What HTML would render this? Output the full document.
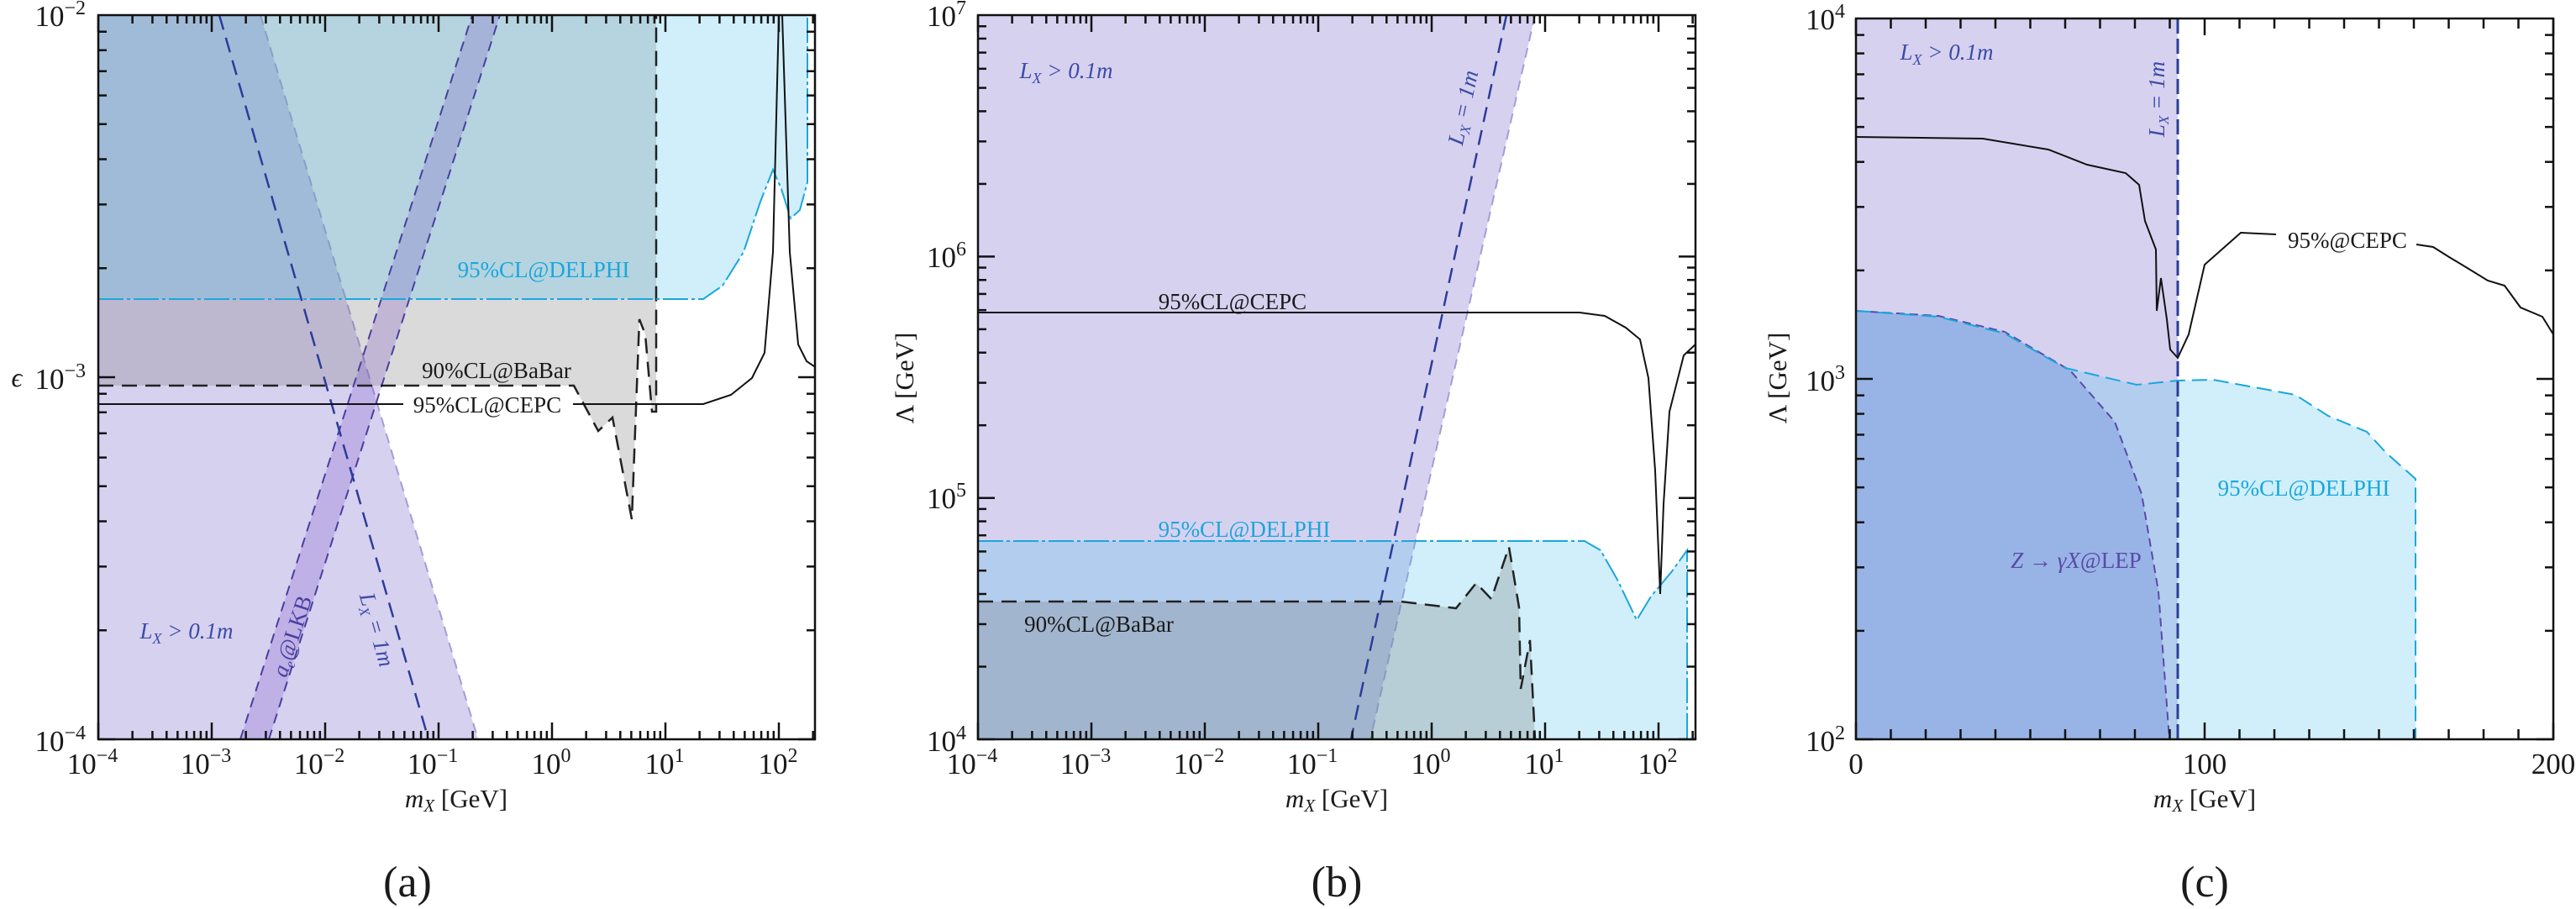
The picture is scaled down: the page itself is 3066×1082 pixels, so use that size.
<!DOCTYPE html>
<html><head><meta charset="utf-8"><style>
body{margin:0;background:#fff}
svg{display:block;font-family:"Liberation Serif","DejaVu Serif",serif}
text{font-family:"Liberation Serif","DejaVu Serif",serif;fill:#1a1a1a}
.tl{font-size:35px}
.sup{font-size:24px}
.lab{font-size:27px}
.it{font-style:italic}
</style></head><body>
<svg id="s" width="3066" height="1082" xmlns="http://www.w3.org/2000/svg" font-family="Liberation Serif, DejaVu Serif, serif">
<defs>
<clipPath id="ca"><rect x="117" y="18" width="853" height="862"/></clipPath>
<clipPath id="cb"><rect x="1164" y="18" width="854" height="862"/></clipPath>
<clipPath id="cc"><rect x="2209" y="22" width="830" height="858"/></clipPath>
</defs>
<!-- Panel A -->
<g clip-path="url(#ca)">
<polygon points="117,18 310,18 569,880 117,880" fill="rgba(110,90,200,0.28)"/>
<polyline points="310,18 569,880" fill="none" stroke="#a89bd6" stroke-width="2" stroke-dasharray="12,8"/>
<polygon points="117,18 781,18 781,490 776,490 768,398 761,380 752,618 729,497 712,513 683,459 117,459" fill="rgba(120,120,120,0.27)"/>
<polygon points="117,356 837,356 860,340 885,300 905,240 920,202 930,225 941,260 952,250 961,217 961,18 117,18" fill="rgba(80,195,235,0.27)"/>
<polygon points="286,880 562,18 595,18 320,880" fill="rgba(120,80,200,0.25)"/>
<polyline points="286,880 562,18" fill="none" stroke="#4a3fa0" stroke-width="2" stroke-dasharray="12,8"/>
<polyline points="320,880 595,18" fill="none" stroke="#4a3fa0" stroke-width="2" stroke-dasharray="12,8"/>
<polyline points="261,18 510,880" fill="none" stroke="#2b3d9a" stroke-width="2.5" stroke-dasharray="18,10"/>
<polyline points="117,459 683,459 712,513 729,497 752,618 761,380 768,398 776,490 781,490 781,18" fill="none" stroke="#222" stroke-width="2.5" stroke-dasharray="18,10"/>
<polyline points="117,356 837,356 860,340 885,300 905,240 920,202 930,225 941,260 952,250 961,217 961,18" fill="none" stroke="#1aa7dc" stroke-width="2" stroke-dasharray="30,4,4,4"/>
<polyline points="117,481 480,481" fill="none" stroke="#111" stroke-width="2"/>
<polyline points="682,481 837,481 870,470 895,450 910,420 920,300 927,18" fill="none" stroke="#111" stroke-width="2"/>
<polyline points="931,18 940,300 950,410 960,430 972,438" fill="none" stroke="#111" stroke-width="2"/>
</g>
<text x="647" y="330" class="lab" style="fill:#1aa7dc" text-anchor="middle">95%CL@DELPHI</text>
<text x="591" y="450" class="lab" text-anchor="middle">90%CL@BaBar</text>
<text x="580" y="491" class="lab" text-anchor="middle">95%CL@CEPC</text>
<text x="222" y="760" class="lab it" style="fill:#3a4ba8" text-anchor="middle">L<tspan dy="6" font-size="18">X</tspan><tspan dy="-6"> &gt; 0.1m</tspan></text>
<text transform="translate(356,760) rotate(-72)" class="lab it" style="fill:#4a3fa0" text-anchor="middle">a<tspan dy="5" font-size="17">e</tspan><tspan dy="-5" font-style="normal">@LKB</tspan></text>
<text transform="translate(440,752) rotate(74)" class="lab it" style="fill:#3a4ba8" text-anchor="middle">L<tspan dy="5" font-size="17">X</tspan><tspan dy="-5"> = 1m</tspan></text>

<!-- Panel B -->
<g clip-path="url(#cb)">
<polygon points="1164,18 1827,18 1631,880 1164,880" fill="rgba(110,90,200,0.28)"/>
<polyline points="1827,18 1631,880" fill="none" stroke="#a89bd6" stroke-width="2" stroke-dasharray="12,8"/>
<polygon points="1164,644 1886,644 1905,655 1925,690 1948,738 1965,710 1990,680 2008,655 2008,880 1164,880" fill="rgba(80,195,235,0.27)"/>
<polygon points="1164,716 1667,716 1733,724 1757,694 1775,713 1796,651 1808,723 1810,820 1821,762 1827,880 1164,880" fill="rgba(120,120,120,0.27)"/>
<polyline points="1793,18 1608,880" fill="none" stroke="#2b3d9a" stroke-width="2.5" stroke-dasharray="18,10"/>
<polyline points="1164,716 1667,716 1733,724 1757,694 1775,713 1796,651 1808,723 1810,820 1821,762 1827,880" fill="none" stroke="#222" stroke-width="2.5" stroke-dasharray="18,10"/>
<polyline points="1164,644 1886,644 1905,655 1925,690 1948,738 1965,710 1990,680 2008,655 2008,880" fill="none" stroke="#1aa7dc" stroke-width="2" stroke-dasharray="30,4,4,4"/>
<polyline points="1164,372 1880,372 1910,376 1935,390 1952,404 1962,450 1970,560 1976,707 1980,600 1987,490 2004,423 2021,407" fill="none" stroke="#111" stroke-width="2"/>
</g>
<text x="1269" y="93" class="lab it" style="fill:#3a4ba8" text-anchor="middle">L<tspan dy="6" font-size="18">X</tspan><tspan dy="-6"> &gt; 0.1m</tspan></text>
<text transform="translate(1750,130) rotate(-78)" class="lab it" style="fill:#3a4ba8" text-anchor="middle">L<tspan dy="5" font-size="17">X</tspan><tspan dy="-5"> = 1m</tspan></text>
<text x="1467" y="368" class="lab" text-anchor="middle">95%CL@CEPC</text>
<text x="1481" y="639" class="lab" style="fill:#1aa7dc" text-anchor="middle">95%CL@DELPHI</text>
<text x="1308" y="752" class="lab" text-anchor="middle">90%CL@BaBar</text>

<!-- Panel C -->
<g clip-path="url(#cc)">
<rect x="2209" y="22" width="383" height="858" fill="rgba(110,90,200,0.28)"/>
<polygon points="2209,370 2307,377 2386,397 2458,438 2543,458 2592,453 2634,452 2732,470 2771,495 2817,514 2840,539 2875,570 2875,880 2209,880" fill="rgba(80,195,235,0.27)"/>
<polygon points="2209,370 2307,376 2386,395 2464,441 2517,502 2549,588 2569,704 2582,880 2209,880" fill="rgba(60,90,200,0.22)"/>
<polyline points="2209,370 2307,376 2386,395 2464,441 2517,502 2549,588 2569,704 2582,880" fill="none" stroke="#5a4aa8" stroke-width="2" stroke-dasharray="10,6"/>
<polyline points="2209,370 2307,377 2386,397 2458,438 2543,458 2592,453 2634,452 2732,470 2771,495 2817,514 2840,539 2875,570 2875,880" fill="none" stroke="#1aa7dc" stroke-width="2" stroke-dasharray="18,8"/>
<polyline points="2592,22 2592,880" fill="none" stroke="#2b3d9a" stroke-width="3" stroke-dasharray="18,6"/>
<polyline points="2209,163 2360,165 2438,178 2484,196 2530,206 2546,220 2553,263 2566,297 2567,370 2572,331 2579,380 2583,416 2592,426 2605,398 2624,315 2667,277 2709,279" fill="none" stroke="#111" stroke-width="2"/>
<polyline points="2876,291 2896,294 2915,306 2935,318 2961,334 2981,340 3000,366 3026,377 3039,398" fill="none" stroke="#111" stroke-width="2"/>
</g>
<text x="2317" y="71" class="lab it" style="fill:#3a4ba8" text-anchor="middle">L<tspan dy="6" font-size="18">X</tspan><tspan dy="-6"> &gt; 0.1m</tspan></text>
<text transform="translate(2576,118) rotate(-90)" class="lab it" style="fill:#3a4ba8" text-anchor="middle">L<tspan dy="5" font-size="17">X</tspan><tspan dy="-5"> = 1m</tspan></text>
<text x="2794" y="295" class="lab" text-anchor="middle">95%@CEPC</text>
<text x="2742" y="590" class="lab" style="fill:#1aa7dc" text-anchor="middle">95%CL@DELPHI</text>
<text x="2471" y="676" class="lab it" style="fill:#5a4aa8" text-anchor="middle">Z → γX<tspan font-style="normal">@LEP</tspan></text>

<g id="ticks" stroke="#111" stroke-width="2.5"></g>
<rect x="117" y="18" width="853" height="862" fill="none" stroke="#111" stroke-width="2.5"/>
<rect x="1164" y="18" width="854" height="862" fill="none" stroke="#111" stroke-width="2.5"/>
<rect x="2209" y="22" width="830" height="858" fill="none" stroke="#111" stroke-width="2.5"/>

<g class="tl" text-anchor="middle">
<text x="110" y="921">10<tspan class="sup" dy="-14">−4</tspan></text>
<text x="245" y="921">10<tspan class="sup" dy="-14">−3</tspan></text>
<text x="380" y="921">10<tspan class="sup" dy="-14">−2</tspan></text>
<text x="515" y="921">10<tspan class="sup" dy="-14">−1</tspan></text>
<text x="656" y="921">10<tspan class="sup" dy="-14">0</tspan></text>
<text x="791" y="921">10<tspan class="sup" dy="-14">1</tspan></text>
<text x="926" y="921">10<tspan class="sup" dy="-14">2</tspan></text>
<text x="1157" y="921">10<tspan class="sup" dy="-14">−4</tspan></text>
<text x="1292" y="921">10<tspan class="sup" dy="-14">−3</tspan></text>
<text x="1427" y="921">10<tspan class="sup" dy="-14">−2</tspan></text>
<text x="1562" y="921">10<tspan class="sup" dy="-14">−1</tspan></text>
<text x="1703" y="921">10<tspan class="sup" dy="-14">0</tspan></text>
<text x="1838" y="921">10<tspan class="sup" dy="-14">1</tspan></text>
<text x="1973" y="921">10<tspan class="sup" dy="-14">2</tspan></text>
<text x="2209" y="921">0</text>
<text x="2624" y="921">100</text>
<text x="3039" y="921">200</text>
</g>
<g class="tl" text-anchor="end">
<text x="102" y="31">10<tspan class="sup" dy="-14">−2</tspan></text>
<text x="102" y="463">10<tspan class="sup" dy="-14">−3</tspan></text>
<text x="102" y="894">10<tspan class="sup" dy="-14">−4</tspan></text>
<text x="1150" y="31">10<tspan class="sup" dy="-14">7</tspan></text>
<text x="1150" y="318">10<tspan class="sup" dy="-14">6</tspan></text>
<text x="1150" y="605">10<tspan class="sup" dy="-14">5</tspan></text>
<text x="1150" y="894">10<tspan class="sup" dy="-14">4</tspan></text>
<text x="2196" y="35">10<tspan class="sup" dy="-14">4</tspan></text>
<text x="2196" y="465">10<tspan class="sup" dy="-14">3</tspan></text>
<text x="2196" y="894">10<tspan class="sup" dy="-14">2</tspan></text>
</g>
<text x="20" y="460" font-size="32" class="it" text-anchor="middle">ϵ</text>
<g font-size="31" text-anchor="middle">
<text x="543" y="961"><tspan class="it">m</tspan><tspan class="it" font-size="21" dy="5">X</tspan><tspan dy="-5"> [GeV]</tspan></text>
<text x="1591" y="961"><tspan class="it">m</tspan><tspan class="it" font-size="21" dy="5">X</tspan><tspan dy="-5"> [GeV]</tspan></text>
<text x="2624" y="961"><tspan class="it">m</tspan><tspan class="it" font-size="21" dy="5">X</tspan><tspan dy="-5"> [GeV]</tspan></text>
<text transform="translate(1087,450) rotate(-90)">Λ [GeV]</text>
<text transform="translate(2126,450) rotate(-90)">Λ [GeV]</text>
</g>
<g font-size="52" text-anchor="middle">
<text x="485" y="1067">(a)</text>
<text x="1591" y="1067">(b)</text>
<text x="2624" y="1067">(c)</text>
</g>
</svg>
<script>
(function(){
var g=document.getElementById('ticks'),h='';
function L(x1,y1,x2,y2){h+='<line x1="'+x1+'" y1="'+y1+'" x2="'+x2+'" y2="'+y2+'"/>';}
function logx(x0,x1,top,bot,d0,dpx,maxv){
 for(var d=d0;d<=2;d++)for(var k=1;k<=9;k++){var v=k*Math.pow(10,d);if(v>maxv)break;
  var x=x0+(Math.log10(v)-d0)*dpx;if(x>x1)break;var len=k==1?20:10;L(x,bot,x,bot-len);L(x,top,x,top+len);}
}
function logy(x0,x1,top,bot,dec,dpx){
 for(var d=0;d<dec;d++)for(var k=1;k<=9;k++){var y=bot-(d+Math.log10(k))*dpx;var len=k==1?20:10;L(x0,y,x0+len,y);L(x1,y,x1-len,y);}
}
logx(117,970,18,880,-4,135,200);logy(117,970,18,880,2,431);
logx(1164,2018,18,880,-4,135,200);logy(1164,2018,18,880,3,287.3);
logy(2209,3039,22,880,2,429);
for(var m=0;m<=200;m+=10){var x=2209+m*4.15;var len=m%100==0?20:12;L(x,880,x,880-len);L(x,22,x,22+len);}
g.innerHTML=h;
})();
</script>
</body></html>
